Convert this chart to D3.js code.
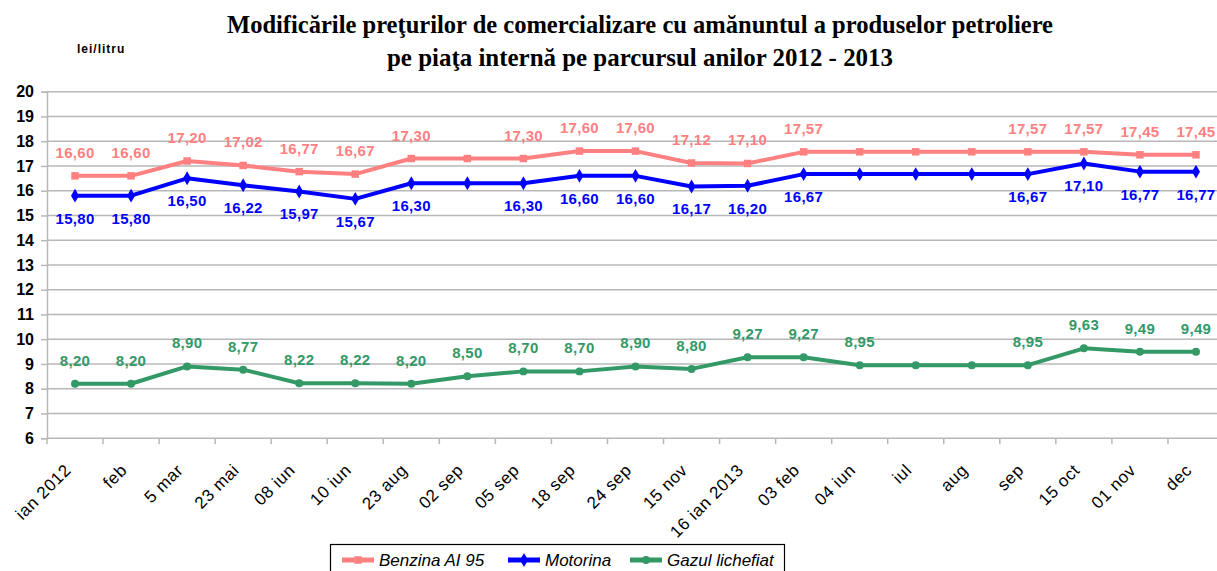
<!DOCTYPE html>
<html>
<head>
<meta charset="utf-8">
<script src="https://cdn.jsdelivr.net/npm/d3@7"></script>
<style>
  body { margin: 0; background: #fff; }
  svg { display: block; font-family: Arial, "Liberation Sans", sans-serif; }
</style>
</head>
<body>
<div id="chart"></div>
<script>
const width = 1217;
const height = 571;

const categories = [
  "ian 2012", "feb", "5 mar", "23  mai", "08 iun", "10 iun", "23 aug",
  "02 sep", "05 sep", "18 sep", "24 sep", "15 nov", "16 ian 2013",
  "03 feb", "04 iun", "iul", "aug", "sep", "15 oct", "01 nov", "dec",
];

const benzina = [
  16.6, 16.6, 17.2, 17.02, 16.77, 16.67, 17.3, 17.3, 17.3, 17.6, 17.6,
  17.12, 17.1, 17.57, 17.57, 17.57, 17.57, 17.57, 17.57, 17.45, 17.45,
];
const motorina = [
  15.8, 15.8, 16.5, 16.22, 15.97, 15.67, 16.3, 16.3, 16.3, 16.6, 16.6,
  16.17, 16.2, 16.67, 16.67, 16.67, 16.67, 16.67, 17.1, 16.77, 16.77,
];
const gazul = [
  8.2, 8.2, 8.9, 8.77, 8.22, 8.22, 8.2, 8.5, 8.7, 8.7, 8.9,
  8.8, 9.27, 9.27, 8.95, 8.95, 8.95, 8.95, 9.63, 9.49, 9.49,
];

// indices whose value label is not shown in the original
const benzinaHidden = [7, 14, 15, 16];
const motorinaHidden = [7, 14, 15, 16];
const gazulHidden = [15, 16];

const yTicks = [6, 7, 8, 9, 10, 11, 12, 13, 14, 15, 16, 17, 18, 19, 20];

const series = [
  { name: "Benzina AI 95", values: benzina, hidden: benzinaHidden, color: "#ff8080", marker: "square", labelDy: -18 },
  { name: "Motorina", values: motorina, hidden: motorinaHidden, color: "#0000ff", marker: "diamond", labelDy: 28 },
  { name: "Gazul lichefiat", values: gazul, hidden: gazulHidden, color: "#339966", marker: "circle", labelDy: -18 },
];

const plot = { left: 47, right: 1224, top: 91.7, bottom: 438.2 };

const svg = d3.select("#chart").append("svg")
  .attr("width", width)
  .attr("height", height)
  .attr("viewBox", `0 0 ${width} ${height}`);

const x = d3.scaleBand().domain(categories).range([plot.left, plot.right]);
const y = d3.scaleLinear().domain([6, 20]).range([plot.bottom, plot.top]);

// title
const title = svg.append("g")
  .attr("font-family", "'Liberation Serif', 'Times New Roman', serif")
  .attr("font-weight", "bold")
  .attr("font-size", 26)
  .attr("text-anchor", "middle")
  .attr("fill", "#000");
title.append("text").attr("x", 640).attr("y", 33)
  .attr("textLength", 826).attr("lengthAdjust", "spacingAndGlyphs")
  .text("Modificările preţurilor de comercializare cu amănuntul a produselor petroliere");
title.append("text").attr("x", 640).attr("y", 66)
  .attr("textLength", 506).attr("lengthAdjust", "spacingAndGlyphs")
  .text("pe piaţa internă pe parcursul anilor 2012 - 2013");

svg.append("text")
  .attr("x", 77).attr("y", 53)
  .attr("font-size", 12).attr("font-weight", "bold")
  .attr("letter-spacing", 1)
  .text("lei/litru");

// grid
svg.append("g")
  .selectAll("line")
  .data(yTicks.filter((d) => d > 6))
  .join("line")
  .attr("x1", plot.left).attr("x2", width)
  .attr("y1", (d) => y(d)).attr("y2", (d) => y(d))
  .attr("stroke", "#b8b8b8").attr("stroke-width", 1.5);

// y axis
const yAxis = svg.append("g")
  .attr("transform", `translate(${plot.left},0)`)
  .call(d3.axisLeft(y).tickValues(yTicks).tickSize(6).tickPadding(7).tickFormat(d3.format("d")));
yAxis.select(".domain").attr("stroke", "#b8b8b8").attr("stroke-width", 1.5);
yAxis.selectAll(".tick line").attr("stroke", "#b8b8b8").attr("stroke-width", 1.5);
yAxis.selectAll("text")
  .attr("font-size", 16).attr("font-weight", "bold").attr("fill", "#000")
  .attr("font-family", "Arial, 'Liberation Sans', sans-serif");

// x axis
const xAxis = svg.append("g")
  .attr("transform", `translate(0,${plot.bottom})`);
xAxis.append("line")
  .attr("x1", plot.left).attr("x2", width)
  .attr("stroke", "#b8b8b8").attr("stroke-width", 1.5);
const edges = d3.range(categories.length + 1).map((i) => plot.left + i * x.bandwidth());
xAxis.selectAll("line.tk")
  .data(edges)
  .join("line")
  .attr("class", "tk")
  .attr("x1", (d) => d).attr("x2", (d) => d)
  .attr("y1", 0).attr("y2", 6)
  .attr("stroke", "#b8b8b8").attr("stroke-width", 1.5);
xAxis.selectAll("text")
  .data(categories)
  .join("text")
  .attr("transform", (d) => `translate(${x(d) + x.bandwidth() / 2 - 3},${33}) rotate(-45)`)
  .attr("text-anchor", "end")
  .attr("font-size", 17)
  .attr("letter-spacing", 0.6)
  .attr("fill", "#000")
  .text((d) => d);

// lines, markers, labels
const line = d3.line()
  .x((d, i) => x(categories[i]) + x.bandwidth() / 2)
  .y((d) => y(d));

const symbols = {
  square: d3.symbol().type(d3.symbolSquare).size(56),
  diamond: d3.symbol().type(d3.symbolDiamond).size(56),
  circle: d3.symbol().type(d3.symbolCircle).size(50),
};

series.forEach((s) => {
  const g = svg.append("g");
  g.append("path")
    .datum(s.values)
    .attr("fill", "none")
    .attr("stroke", s.color)
    .attr("stroke-width", 4)
    .attr("stroke-linejoin", "round")
    .attr("d", line);
  g.selectAll("path.m")
    .data(s.values)
    .join("path")
    .attr("class", "m")
    .attr("transform", (d, i) => `translate(${x(categories[i]) + x.bandwidth() / 2},${y(d)})`)
    .attr("d", symbols[s.marker])
    .attr("fill", s.color);
  g.selectAll("text")
    .data(s.values.map((v, i) => ({ v, i })).filter((d) => !s.hidden.includes(d.i)))
    .join("text")
    .attr("x", (d) => x(categories[d.i]) + x.bandwidth() / 2)
    .attr("y", (d) => y(d.v) + s.labelDy)
    .attr("text-anchor", "middle")
    .attr("font-size", 15)
    .attr("font-weight", "bold")
    .attr("letter-spacing", 0.3)
    .attr("fill", s.color)
    .text((d) => d.v.toFixed(2).replace(".", ","));
});

// legend
const legend = svg.append("g");
legend.append("rect")
  .attr("x", 330.5).attr("y", 544.5).attr("width", 454).attr("height", 40)
  .attr("fill", "#fff").attr("stroke", "#000").attr("stroke-width", 1.2);
const legendX = [342, 508, 630];
series.forEach((s, i) => {
  const lg = legend.append("g").attr("transform", `translate(${legendX[i]},560)`);
  lg.append("line").attr("x1", 0).attr("x2", 32)
    .attr("stroke", s.color).attr("stroke-width", 5);
  lg.append("path").attr("transform", "translate(16,0)")
    .attr("d", symbols[s.marker]).attr("fill", s.color);
  lg.append("text").attr("x", 37).attr("y", 6)
    .attr("font-size", 17).attr("font-style", "italic").attr("fill", "#000")
    .text(s.name);
});
</script>
</body>
</html>
